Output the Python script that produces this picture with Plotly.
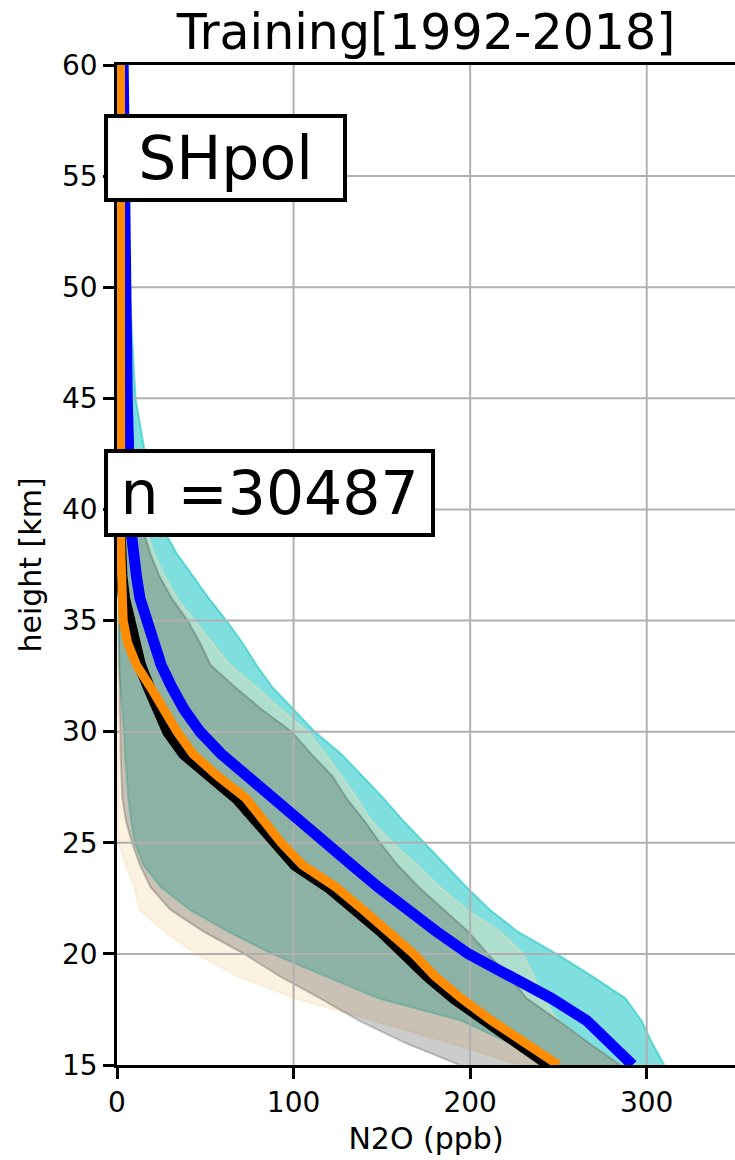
import plotly.graph_objects as go

# ---------------- data ----------------
heights = [15, 16, 17, 18, 19, 20, 21, 22, 23, 24, 25, 26, 27, 28, 29, 30,
           31, 32, 33, 34, 35, 36, 37, 38, 39, 40, 42, 45, 50, 55, 60]

blue_line = [292, 279, 266, 246, 222, 199, 181, 164, 148, 133, 118, 103, 88, 73, 59, 47,
             38, 31, 25, 21, 17, 13, 11, 9, 8, 7.5, 6.5, 5.8, 5, 4, 3.5]
black_line = [245, 226, 208, 191, 176, 164, 150, 135, 120, 101, 89, 79, 68, 52, 38, 29,
              23, 18, 13, 10, 6, 4, 2.5, 1.5, 1.5, 1.5, 1.5, 1.5, 1.5, 1.5, 1.5]
orange_line = [250, 230, 212, 195, 180, 168, 154, 139, 124, 105, 93, 83, 73, 57, 43, 34,
               27, 19, 11, 6, 3.5, 2.7, 2.3, 2.2, 2.1, 2, 2, 2, 2, 2, 2]

cyan_low = [245, 222, 195, 148, 118, 88, 63, 41, 25, 15, 10, 8, 6.5, 5.5, 4.5, 4,
            3, 2, 1.5, 1, 1, 1, 1, 1, 1, 1, 1, 1, 1, 1, 1]
cyan_high = [310, 303, 297, 288, 269, 249, 227, 211, 198, 186, 174, 162, 151, 139, 127, 112,
             100, 88, 79, 71, 62, 52, 43, 34, 27, 24, 17, 10.5, 7, 5, 4]

beige_low = [228, 188, 145, 101, 68, 45, 27, 12.5, 10, 5, 1, 0.5, 0.5, 0.5, 0.5, 0.5,
             0.5, 0.5, 0.5, 0.5, 0.5, 0.5, 0.5, 0.5, 0.5, 0.5, 0.5, 0.5, 0.5, 0.5, 0.5]
beige_high = [285, 266, 250, 241, 236, 230, 217, 198, 183, 170, 156, 144, 136, 127, 118, 108,
              93, 79, 64, 54, 44, 34, 27, 21, 17, 14, 10, 6, 3.5, 2.5, 2]

gray_low = [194, 163, 137, 115, 92, 72, 49, 30, 19, 13, 8.5, 5, 3, 2.5, 2, 2,
            1.5, 1.5, 1, 1, 1, 1, 1, 1, 1, 1, 1, 1, 1, 1, 1]
gray_high = [285, 267, 250, 232, 222, 210, 199, 185, 171, 159, 149, 140, 130, 122, 110, 99,
             82, 67, 53, 47, 40, 31, 24, 19, 15, 12, 8, 5, 3, 2.5, 2]

x_ticks = [0, 100, 200, 300]
y_ticks = [15, 20, 25, 30, 35, 40, 45, 50, 55, 60]
x_range = [0, 350]
y_range = [15, 60]

title_text = "Training[1992-2018]"
region_label = "SHpol"
count_label = "n =30487"

# ---------------- styles ----------------
CYAN = "rgba(0,191,191,0.5)"
BEIGE = "rgba(245,222,179,0.4)"
GRAY = "rgba(0,0,0,0.2)"
GRID = "#b0b0b0"
FONT = "DejaVu Sans"

fig = go.Figure()


def add_band(lo, hi, color):
    fig.add_trace(go.Scatter(
        x=list(lo) + list(hi)[::-1],
        y=list(heights) + list(heights)[::-1],
        mode="lines", fill="toself", fillcolor=color,
        line=dict(color=color, width=2),
        hoverinfo="skip", showlegend=False))


add_band(cyan_low, cyan_high, CYAN)
add_band(beige_low, beige_high, BEIGE)
add_band(gray_low, gray_high, GRAY)

# grid lines drawn above the shaded bands but below the profiles
gx, gy = [], []
for t in x_ticks[1:]:
    gx += [t, t, None]
    gy += [y_range[0], y_range[1], None]
for t in y_ticks[1:-1]:
    gx += [x_range[0], x_range[1], None]
    gy += [t, t, None]
fig.add_trace(go.Scatter(x=gx, y=gy, mode="lines",
                         line=dict(color=GRID, width=2),
                         hoverinfo="skip", showlegend=False))

fig.add_trace(go.Scatter(x=black_line, y=heights, mode="lines",
                         line=dict(color="black", width=12), showlegend=False))
fig.add_trace(go.Scatter(x=blue_line, y=heights, mode="lines",
                         line=dict(color="#0000ff", width=11), showlegend=False))
fig.add_trace(go.Scatter(x=orange_line, y=heights, mode="lines",
                         line=dict(color="#ff8c00", width=9), showlegend=False))

axis_common = dict(
    showgrid=False, zeroline=False, showline=True, linecolor="black", linewidth=2.5,
    ticks="outside", ticklen=11, tickwidth=2.5, tickcolor="black",
    tickfont=dict(family=FONT, size=28, color="black"),
)

fig.update_xaxes(range=x_range, tickvals=x_ticks, mirror=True,
                 title=dict(text="N2O (ppb)", font=dict(family=FONT, size=30, color="black"),
                            standoff=10),
                 **axis_common)
fig.update_yaxes(range=y_range, tickvals=y_ticks,
                 title=dict(text="height [km]", font=dict(family=FONT, size=30, color="black"),
                            standoff=12),
                 **axis_common)

L, T, PW, PH = 117, 65, 618, 1000

fig.update_layout(
    width=735, height=1160,
    margin=dict(l=L, r=0, t=T, b=95, autoexpand=False),
    plot_bgcolor="white", paper_bgcolor="white",
    font=dict(family=FONT, color="black"),
    showlegend=False,
    title=dict(text=title_text, x=0.5, xref="paper", xanchor="center",
               y=1 - 32 / 1160, yref="container", yanchor="middle",
               font=dict(family=FONT, size=49, color="black")),
    annotations=[
        dict(text=region_label, xref="paper", yref="paper",
             x=(104 - L) / PW, y=(T + PH - 114) / PH, xanchor="left", yanchor="top",
             showarrow=False, font=dict(family=FONT, size=60, color="black"),
             bgcolor="white", bordercolor="black", borderwidth=4, borderpad=5,
             width=225),
        dict(text=count_label, xref="paper", yref="paper",
             x=(104 - L) / PW, y=(T + PH - 449) / PH, xanchor="left", yanchor="top",
             showarrow=False, font=dict(family=FONT, size=60, color="black"),
             bgcolor="white", bordercolor="black", borderwidth=4, borderpad=5,
             width=313),
    ],
)

fig.write_html("out.html")
